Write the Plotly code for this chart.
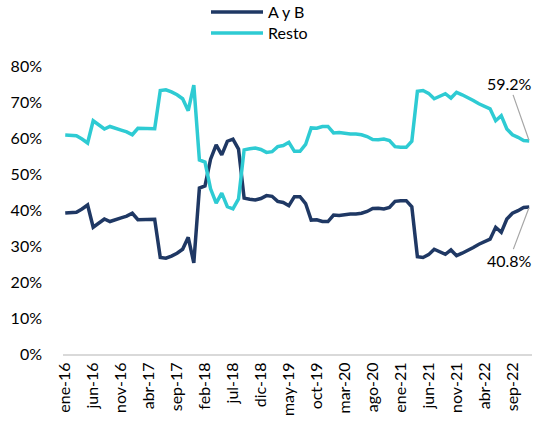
import plotly.graph_objects as go

meses = ["ene", "feb", "mar", "abr", "may", "jun", "jul", "ago", "sep", "oct", "nov", "dic"]
categorias = [f"{m}-{a}" for a in range(16, 23) for m in meses]

a_y_b = [39.2, 39.3, 39.4, 40.3, 41.4, 35.2, 36.3, 37.5, 36.8, 37.2,
         37.8, 38.3, 39.1, 37.3, 37.4, 37.4, 37.4, 26.8, 26.6, 27.2,
         28.0, 29.1, 32.4, 25.3, 46.1, 46.7, 54.1, 58.1, 55.3, 59.1,
         59.7, 56.9, 43.3, 43.0, 42.8, 43.2, 44.0, 43.8, 42.4, 42.1,
         41.2, 43.7, 43.7, 41.8, 37.2, 37.3, 36.8, 36.8, 38.6, 38.5,
         38.8, 38.9, 38.9, 39.1, 39.6, 40.4, 40.5, 40.3, 40.7, 42.4,
         42.6, 42.6, 40.9, 27.0, 26.8, 27.6, 29.1, 28.5, 27.7, 28.9,
         27.3, 28.0, 28.7, 29.6, 30.5, 31.3, 31.9, 35.2, 33.8, 37.5,
         39.1, 39.8, 40.7, 40.8]

resto = [60.8, 60.7, 60.6, 59.7, 58.6, 64.8, 63.7, 62.5, 63.2, 62.8,
         62.2, 61.7, 60.9, 62.7, 62.6, 62.6, 62.6, 73.2, 73.4, 72.8,
         72.0, 70.9, 67.6, 74.7, 53.9, 53.3, 45.9, 41.9, 44.7, 40.9,
         40.3, 43.1, 56.7, 57.0, 57.2, 56.8, 56.0, 56.2, 57.6, 57.9,
         58.8, 56.3, 56.3, 58.2, 62.8, 62.7, 63.2, 63.2, 61.4, 61.5,
         61.2, 61.1, 61.1, 60.9, 60.4, 59.6, 59.5, 59.7, 59.3, 57.6,
         57.4, 57.4, 59.1, 73.0, 73.2, 72.4, 70.9, 71.5, 72.3, 71.1,
         72.7, 72.0, 71.3, 70.4, 69.5, 68.7, 68.1, 64.8, 66.2, 62.5,
         60.9, 60.2, 59.3, 59.2]

y_ticks = [0, 10, 20, 30, 40, 50, 60, 70, 80]
y_labels = [f"{v}%" for v in y_ticks]
x_ticks = categorias[::5]

FONT = "Lato"
FS = 16
fig = go.Figure()
fig.add_trace(go.Scatter(x=categorias, y=a_y_b, mode="lines", name="A y B",
                         line=dict(color="#1F3864", width=3.5), legend="legend"))
fig.add_trace(go.Scatter(x=categorias, y=resto, mode="lines", name="Resto",
                         line=dict(color="#2ECBD3", width=3.5), legend="legend2"))

fig.add_annotation(x=categorias[-1], y=resto[-1], text=f"{resto[-1]:.1f}%",
                   showarrow=True, arrowhead=0, arrowwidth=1.2, arrowcolor="#A6A6A6",
                   ax=-20, ay=-57, font=dict(family=FONT, size=FS, color="#000000"),
                   standoff=1)
fig.add_annotation(x=categorias[-1], y=a_y_b[-1], text=f"{a_y_b[-1]:.1f}%",
                   showarrow=True, arrowhead=0, arrowwidth=1.2, arrowcolor="#A6A6A6",
                   ax=-20, ay=53, font=dict(family=FONT, size=FS, color="#000000"),
                   standoff=1)

leg_common = dict(xanchor="left", yanchor="middle",
                  font=dict(family=FONT, size=FS, color="#000000"),
                  itemwidth=52, bgcolor="rgba(0,0,0,0)")
PH = 288
fig.update_layout(
    width=540, height=426,
    margin=dict(l=63, r=8, t=66, b=72, autoexpand=False),
    paper_bgcolor="white", plot_bgcolor="white",
    font=dict(family=FONT, size=FS, color="#000000"),
    showlegend=True,
    legend=dict(x=(206 - 63) / 469, y=1 + (66 - 12) / PH, **leg_common),
    legend2=dict(x=(206 - 63) / 469, y=1 + (66 - 33) / PH, **leg_common),
    xaxis=dict(type="category", tickmode="array", tickvals=x_ticks, ticktext=x_ticks,
               tickangle=-90, range=[-0.4, 83.5], showgrid=False, zeroline=False,
               showline=True, linecolor="#D9D9D9", linewidth=2, ticks="",
               automargin=False, tickfont=dict(family=FONT, size=FS)),
    yaxis=dict(range=[0, 80], tickmode="array", tickvals=y_ticks, ticktext=y_labels,
               showgrid=False, zeroline=False, showline=False, ticks="",
               automargin=False, ticklabelstandoff=20,
               tickfont=dict(family=FONT, size=FS)),
)

fig.write_html("out.html", config={"displayModeBar": False},
               post_script="document.body.style.margin='0';")
